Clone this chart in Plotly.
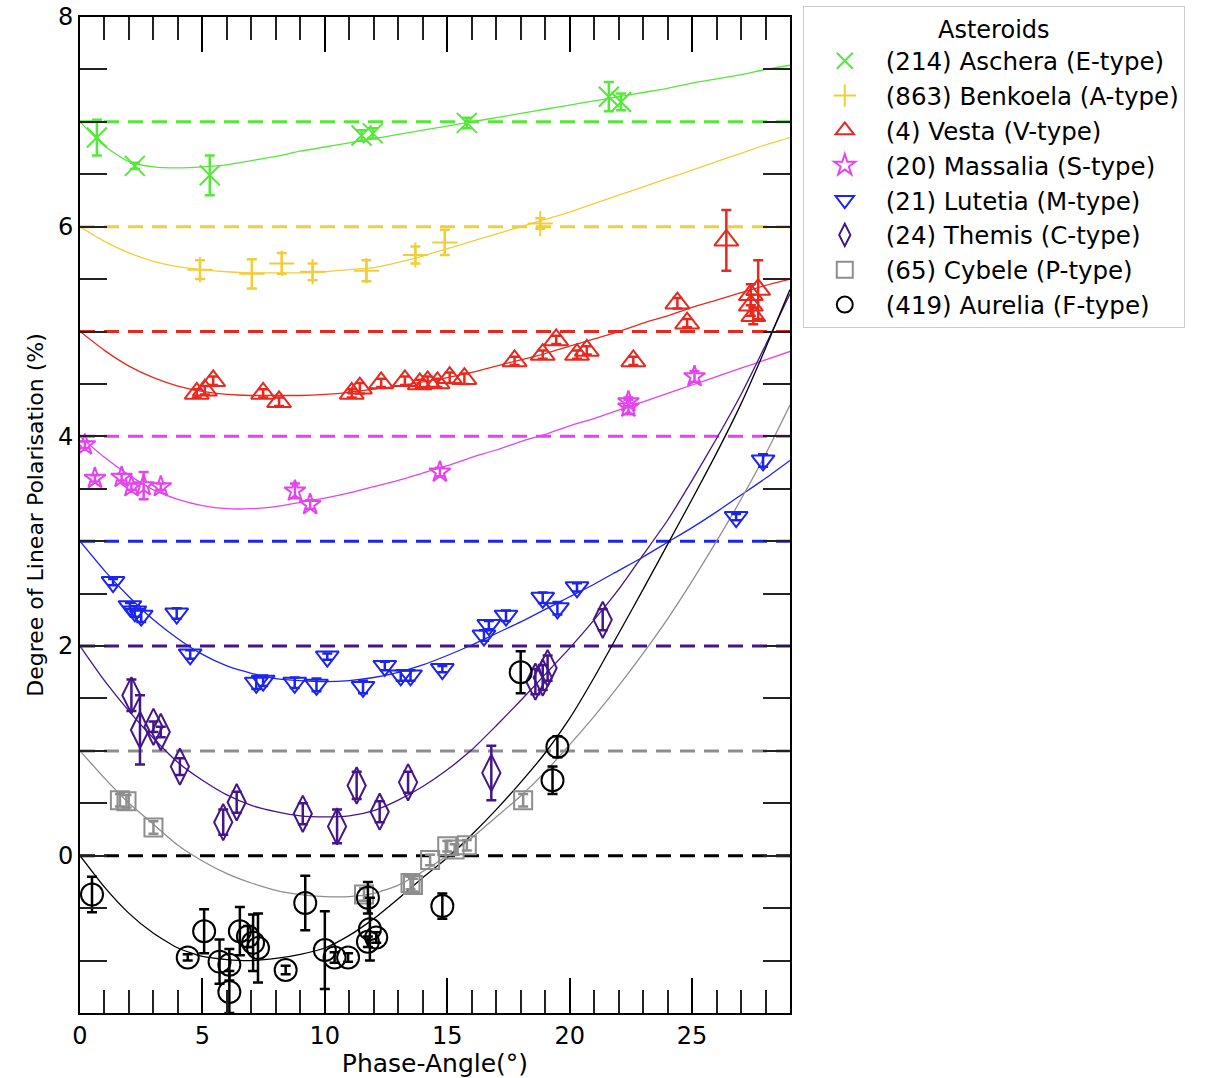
import plotly.graph_objects as go

# ---------------- data ----------------
NAMES = ["(214) Aschera (E-type)", "(863) Benkoela (A-type)", "(4) Vesta (V-type)",
         "(20) Massalia (S-type)", "(21) Lutetia (M-type)", "(24) Themis (C-type)",
         "(65) Cybele (P-type)", "(419) Aurelia (F-type)"]
OFFSETS = [7, 6, 5, 4, 3, 2, 1, 0]

aschera_x = [0.69, 2.24, 5.3, 11.5, 11.96, 15.8, 21.6, 22.1]
aschera_y = [6.85, 6.58, 6.49, 6.87, 6.89, 6.99, 7.24, 7.19]
aschera_e = [0.17, 0.03, 0.19, 0.05, 0.05, 0.05, 0.14, 0.08]

benkoela_x = [4.9, 7.02, 8.24, 9.5, 11.7, 13.7, 14.9, 18.8]
benkoela_y = [5.59, 5.55, 5.65, 5.57, 5.58, 5.73, 5.85, 6.03]
benkoela_e = [0.09, 0.14, 0.10, 0.08, 0.10, 0.08, 0.12, 0.05]

vesta_x = [4.77, 5.1, 5.44, 7.48, 8.13, 11.1, 11.43, 12.3, 13.27, 13.88, 14.2, 14.6, 15.1,
           15.7, 17.75, 18.9, 19.45, 20.3, 20.7, 22.6, 24.4, 24.8, 26.4, 27.4, 27.4, 27.5, 27.7]
vesta_y = [4.41, 4.44, 4.53, 4.41, 4.33, 4.41, 4.46, 4.51, 4.53, 4.50, 4.52, 4.51, 4.56,
           4.55, 4.72, 4.78, 4.92, 4.78, 4.82, 4.72, 5.27, 5.08, 5.87, 5.35, 5.25, 5.15, 5.40]
vesta_e = [0.04, 0.04, 0.04, 0.04, 0.04, 0.04, 0.05, 0.04, 0.04, 0.04, 0.05, 0.04, 0.05,
           0.05, 0.04, 0.04, 0.04, 0.04, 0.04, 0.04, 0.05, 0.04, 0.29, 0.10, 0.10, 0.08, 0.28]

massalia_x = [0.2, 0.61, 1.7, 2.1, 2.6, 3.3, 8.78, 9.4, 14.7, 22.4, 22.4, 25.1]
massalia_y = [3.92, 3.60, 3.61, 3.52, 3.53, 3.52, 3.48, 3.35, 3.66, 4.28, 4.33, 4.57]
massalia_e = [0.03, 0.03, 0.03, 0.03, 0.13, 0.03, 0.07, 0.04, 0.04, 0.07, 0.04, 0.05]

lutetia_x = [1.35, 2.04, 2.24, 2.5, 3.95, 4.5, 7.2, 7.48, 8.77, 9.66, 10.1, 11.56, 12.45,
             13.1, 13.5, 14.8, 16.5, 16.7, 17.4, 18.9, 19.5, 20.3, 26.8, 27.9]
lutetia_y = [2.61, 2.38, 2.33, 2.29, 2.31, 1.92, 1.65, 1.67, 1.65, 1.63, 1.90, 1.61, 1.81,
             1.72, 1.72, 1.78, 2.10, 2.20, 2.29, 2.46, 2.36, 2.56, 3.23, 3.77]
lutetia_e = [0.03, 0.03, 0.05, 0.06, 0.05, 0.04, 0.06, 0.05, 0.05, 0.06, 0.03, 0.06, 0.04,
             0.05, 0.05, 0.03, 0.05, 0.04, 0.05, 0.05, 0.06, 0.04, 0.03, 0.06]

themis_x = [2.1, 2.45, 3.0, 3.3, 4.08, 5.85, 6.4, 9.1, 10.5, 11.3, 12.24, 13.4, 16.8,
            18.6, 18.9, 19.1, 21.35]
themis_y = [1.53, 1.20, 1.23, 1.18, 0.85, 0.32, 0.51, 0.40, 0.28, 0.67, 0.42, 0.70, 0.79,
            1.66, 1.70, 1.79, 2.25]
themis_e = [0.15, 0.33, 0.05, 0.05, 0.08, 0.12, 0.10, 0.10, 0.16, 0.13, 0.10, 0.10, 0.26,
            0.12, 0.12, 0.12, 0.10]

cybele_x = [1.63, 1.9, 3.0, 11.6, 13.5, 13.6, 14.3, 15.0, 15.3, 15.8, 18.1]
cybele_y = [0.53, 0.52, 0.27, -0.37, -0.26, -0.28, -0.04, 0.09, 0.06, 0.10, 0.53]
cybele_e = [0.06, 0.06, 0.06, 0.06, 0.06, 0.06, 0.05, 0.05, 0.05, 0.05, 0.06]

aurelia_x = [0.49, 4.4, 5.07, 5.7, 6.1, 6.1, 6.53, 6.86, 7.07, 7.27, 8.4, 9.2, 10.0, 10.4,
             10.95, 11.76, 11.84, 11.76, 12.1, 14.8, 18.0, 19.3, 19.5]
aurelia_y = [-0.37, -0.97, -0.72, -1.01, -1.04, -1.30, -0.72, -0.77, -0.83, -0.88, -1.09,
             -0.45, -0.90, -0.97, -0.97, -0.40, -0.70, -0.82, -0.78, -0.48, 1.75, 0.72, 1.04]
aurelia_e = [0.17, 0.03, 0.21, 0.21, 0.15, 0.20, 0.23, 0.10, 0.27, 0.33, 0.04, 0.26, 0.37,
             0.05, 0.04, 0.15, 0.30, 0.05, 0.05, 0.12, 0.20, 0.13, 0.10]

# fitted phase curves at each whole degree of phase angle
curve_x = list(range(0, 30))
aschera_fit = [7.0, 6.77, 6.62, 6.57, 6.56, 6.57, 6.59, 6.63, 6.67, 6.72, 6.76, 6.80, 6.84,
               6.88, 6.92, 6.96, 7.0, 7.04, 7.08, 7.12, 7.16, 7.20, 7.24, 7.28, 7.32, 7.37,
               7.41, 7.45, 7.50, 7.54]
benkoela_fit = [6.0, 5.86, 5.75, 5.67, 5.62, 5.59, 5.57, 5.56, 5.56, 5.56, 5.57, 5.59, 5.61,
                5.66, 5.72, 5.79, 5.86, 5.93, 6.0, 6.07, 6.14, 6.22, 6.30, 6.38, 6.46, 6.54,
                6.62, 6.70, 6.78, 6.85]
vesta_fit = [5.0, 4.82, 4.67, 4.56, 4.48, 4.43, 4.40, 4.39, 4.39, 4.39, 4.40, 4.42, 4.45,
             4.48, 4.52, 4.56, 4.61, 4.67, 4.73, 4.79, 4.86, 4.93, 5.0, 5.08, 5.15, 5.23,
             5.30, 5.37, 5.44, 5.50]
massalia_fit = [4.0, 3.80, 3.63, 3.49, 3.40, 3.34, 3.31, 3.31, 3.33, 3.37, 3.41, 3.46, 3.52,
                3.58, 3.65, 3.72, 3.80, 3.87, 3.95, 4.02, 4.10, 4.17, 4.25, 4.33, 4.41, 4.49,
                4.57, 4.65, 4.73, 4.81]
lutetia_fit = [3.0, 2.72, 2.47, 2.25, 2.07, 1.92, 1.81, 1.74, 1.69, 1.67, 1.66, 1.67, 1.70,
               1.75, 1.82, 1.91, 2.01, 2.12, 2.23, 2.35, 2.47, 2.59, 2.72, 2.85, 2.99, 3.13,
               3.28, 3.44, 3.60, 3.77]
themis_fit = [2.0, 1.67, 1.38, 1.12, 0.89, 0.72, 0.58, 0.48, 0.42, 0.38, 0.37, 0.38, 0.43,
              0.53, 0.66, 0.82, 1.01, 1.24, 1.48, 1.73, 1.98, 2.25, 2.54, 2.87, 3.20, 3.58,
              3.98, 4.40, 4.87, 5.36]
cybele_fit = [1.0, 0.74, 0.50, 0.30, 0.10, -0.05, -0.17, -0.26, -0.33, -0.37, -0.39, -0.39,
              -0.36, -0.28, -0.15, 0.0, 0.17, 0.37, 0.57, 0.80, 1.06, 1.33, 1.62, 1.93, 2.26,
              2.62, 3.0, 3.40, 3.83, 4.30]
aurelia_fit = [0.0, -0.30, -0.55, -0.74, -0.88, -0.96, -0.99, -1.0, -0.98, -0.94, -0.88,
               -0.76, -0.60, -0.41, -0.21, -0.02, 0.20, 0.44, 0.70, 0.98, 1.31, 1.70, 2.12,
               2.54, 2.97, 3.40, 3.84, 4.31, 4.84, 5.40]

X_RANGE = [0, 29]
Y_RANGE = [-1.5, 8]

# ---------------- styling ----------------
COLORS = ["#55e83a", "#f2cd3a", "#e8291f", "#e444ee", "#1c25ee", "#44168a", "#8e8e8e", "#000000"]
SYMBOLS = ["x-thin-open", "cross-thin-open", "triangle-up-open", "star-open",
           "triangle-down-open", "diamond-tall-open", "square-open", "circle-open"]
SIZES = [20, 18, 21, 16, 20, 26, 18, 22]

series = [
    (aschera_x, aschera_y, aschera_e, aschera_fit),
    (benkoela_x, benkoela_y, benkoela_e, benkoela_fit),
    (vesta_x, vesta_y, vesta_e, vesta_fit),
    (massalia_x, massalia_y, massalia_e, massalia_fit),
    (lutetia_x, lutetia_y, lutetia_e, lutetia_fit),
    (themis_x, themis_y, themis_e, themis_fit),
    (cybele_x, cybele_y, cybele_e, cybele_fit),
    (aurelia_x, aurelia_y, aurelia_e, aurelia_fit),
]

FONT = "DejaVu Sans"
fig = go.Figure()

# dashed reference lines (zero-polarisation levels for each offset)
for off, col in zip(OFFSETS, COLORS):
    fig.add_trace(go.Scatter(x=X_RANGE, y=[off, off], mode="lines", showlegend=False,
                             hoverinfo="skip",
                             line=dict(color=col, width=3, dash="15px,9px")))

# fitted curves
for (sx, sy, se, fit), col in zip(series, COLORS):
    fig.add_trace(go.Scatter(x=curve_x, y=fit, mode="lines", showlegend=False,
                             hoverinfo="skip",
                             line=dict(color=col, width=1.3, shape="spline", smoothing=0.6)))

# observations
for (sx, sy, se, fit), name, col, sym, sz in zip(series, NAMES, COLORS, SYMBOLS, SIZES):
    fig.add_trace(go.Scatter(
        x=sx, y=sy, mode="markers", name=name,
        marker=dict(symbol=sym, size=sz, color=col, line=dict(color=col, width=2)),
        error_y=dict(type="data", array=se, visible=True, color=col, thickness=2.5, width=5),
    ))

fig.update_layout(
    width=1210, height=1078,
    margin=dict(l=80, r=420, t=17, b=65, autoexpand=False),
    paper_bgcolor="white", plot_bgcolor="white",
    font=dict(family=FONT, size=24, color="black"),
    legend=dict(
        x=1.018, y=1.011, xanchor="left", yanchor="top",
        bordercolor="#cccccc", borderwidth=1, bgcolor="white",
        font=dict(family=FONT, size=24.5, color="black"),
        title=dict(text="Asteroids", side="top center", font=dict(family=FONT, size=24)),
        itemsizing="trace", itemwidth=72, tracegroupgap=0,
    ),
    showlegend=True,
)

fig.update_xaxes(
    range=X_RANGE, showgrid=False, zeroline=False, automargin=False,
    showline=True, linecolor="black", linewidth=2, mirror="ticks",
    ticks="inside", tickmode="array", tickvals=[0, 5, 10, 15, 20, 25],
    ticklen=35, tickwidth=2, tickcolor="black",
    minor=dict(ticks="inside", dtick=1, tick0=0, ticklen=23, tickwidth=1.5, tickcolor="#222222"),
    tickfont=dict(family=FONT, size=24),
    title=dict(text="Phase-Angle(°)", font=dict(family=FONT, size=25), standoff=4),
)
fig.update_yaxes(
    range=Y_RANGE, showgrid=False, zeroline=False, automargin=False,
    showline=True, linecolor="black", linewidth=2, mirror="ticks",
    ticks="inside", tickmode="array", tickvals=[0, 2, 4, 6, 8],
    ticklen=27, tickwidth=1.5, tickcolor="#222222",
    minor=dict(ticks="inside", dtick=0.5, tick0=0, ticklen=27, tickwidth=1.5, tickcolor="#222222"),
    tickfont=dict(family=FONT, size=24),
    title=dict(text="Degree of Linear Polarisation (%)", font=dict(family=FONT, size=22), standoff=8),
)

fig.write_html("out.html")
